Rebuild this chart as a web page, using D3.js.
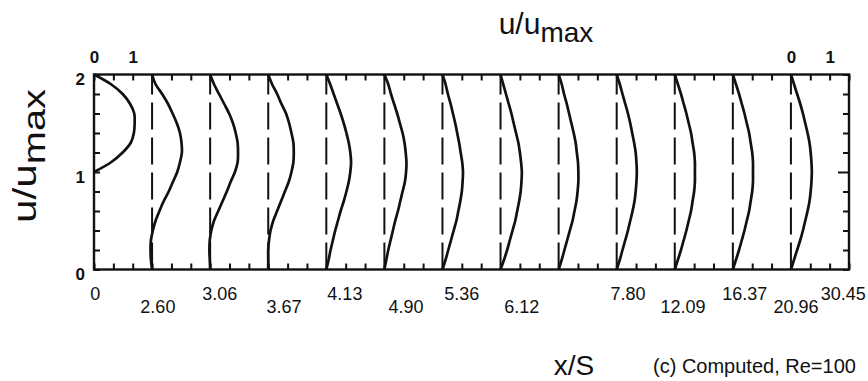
<!DOCTYPE html>
<html>
<head>
<meta charset="utf-8">
<script src="https://cdn.jsdelivr.net/npm/d3@7/dist/d3.min.js"></script>
<style>
  html, body { margin: 0; padding: 0; background: #fff; }
  svg { display: block; font-family: "Liberation Sans", Arial, sans-serif; }
</style>
</head>
<body>
<svg id="chart" width="868" height="381"></svg>
<script>
// ---------------- data ----------------
const stationLabels = ["0", "2.60", "3.06", "3.67", "4.13", "4.90", "5.36", "6.12", "7.80", "12.09", "16.37", "20.96", "30.45"];
const yLevels = [0, 0.1, 0.2, 0.3, 0.4, 0.5, 0.6, 0.7, 0.8, 0.9, 1.0, 1.1, 1.2, 1.3, 1.4, 1.5, 1.6, 1.7, 1.8, 1.9, 2.0];
const yTickLabels = ["0", "1", "2"];
const topTickLabels = ["0", "1"];

// u/umax at each yLevel, one array per station (null = not part of the profile)
const u_0000 = [null, null, null, null, null, null, null, null, null, null, 0, 0.44, 0.74, 0.95, 1.03, 1.05, 1.04, 0.93, 0.74, 0.44, 0];
const u_0260 = [0, -0.03, -0.04, -0.03, 0.02, 0.09, 0.19, 0.30, 0.43, 0.54, 0.65, 0.72, 0.77, 0.76, 0.72, 0.64, 0.53, 0.41, 0.26, 0.09, 0];
const u_0306 = [0, -0.01, -0.02, -0.01, 0.03, 0.10, 0.21, 0.32, 0.43, 0.53, 0.64, 0.71, 0.72, 0.71, 0.66, 0.59, 0.49, 0.36, 0.23, 0.10, 0];
const u_0367 = [0, 0, 0, 0.02, 0.06, 0.13, 0.23, 0.33, 0.43, 0.53, 0.60, 0.65, 0.66, 0.65, 0.60, 0.54, 0.46, 0.34, 0.23, 0.10, 0];
const u_0413 = [0, 0.06, 0.11, 0.17, 0.23, 0.30, 0.37, 0.45, 0.52, 0.58, 0.62, 0.64, 0.62, 0.58, 0.52, 0.45, 0.37, 0.28, 0.19, 0.10, 0];
const u_0490 = [0, 0.05, 0.10, 0.16, 0.22, 0.28, 0.35, 0.41, 0.47, 0.53, 0.56, 0.57, 0.55, 0.52, 0.47, 0.40, 0.33, 0.25, 0.17, 0.10, 0];
const u_0536 = [0, 0.08, 0.15, 0.22, 0.29, 0.36, 0.41, 0.46, 0.50, 0.52, 0.53, 0.51, 0.47, 0.43, 0.38, 0.33, 0.27, 0.21, 0.14, 0.08, 0];
const u_0612 = [0, 0.09, 0.17, 0.24, 0.31, 0.38, 0.43, 0.48, 0.52, 0.54, 0.55, 0.53, 0.50, 0.46, 0.40, 0.34, 0.28, 0.21, 0.14, 0.07, 0];
const u_0780 = [0, 0.08, 0.15, 0.22, 0.29, 0.36, 0.41, 0.46, 0.49, 0.51, 0.51, 0.50, 0.47, 0.44, 0.39, 0.33, 0.27, 0.21, 0.14, 0.08, 0];
const u_1209 = [0, 0.08, 0.15, 0.22, 0.29, 0.35, 0.41, 0.46, 0.49, 0.51, 0.52, 0.51, 0.49, 0.45, 0.40, 0.35, 0.29, 0.22, 0.15, 0.08, 0];
const u_1637 = [0, 0.08, 0.16, 0.23, 0.30, 0.36, 0.42, 0.46, 0.50, 0.52, 0.52, 0.52, 0.50, 0.46, 0.42, 0.36, 0.30, 0.23, 0.16, 0.08, 0];
const u_2096 = [0, 0.08, 0.16, 0.23, 0.30, 0.36, 0.42, 0.46, 0.50, 0.52, 0.52, 0.52, 0.50, 0.46, 0.42, 0.36, 0.30, 0.23, 0.16, 0.08, 0];
const u_3045 = [0, 0.08, 0.16, 0.24, 0.31, 0.37, 0.43, 0.48, 0.51, 0.53, 0.54, 0.53, 0.51, 0.48, 0.43, 0.37, 0.31, 0.24, 0.16, 0.08, 0];
const profiles = [u_0000, u_0260, u_0306, u_0367, u_0413, u_0490, u_0536, u_0612, u_0780, u_1209, u_1637, u_2096, u_3045];

// ---------------- layout ----------------
const stationStep = 1.5;                 // u/umax units between stations
const xDomainMax = stationLabels.length * stationStep;
// horizontal nudges of the x/S labels (in u/umax units), as placed in the original
const labelNudge = [0.03, 0.15, 0.25, 0.41, 0.48, 0.56, 0.50, 0.55, 1.79, 1.71, 1.81, 1.63, 1.35];

const svg = d3.select("#chart");
const x = d3.scaleLinear().domain([0, xDomainMax]).range([94, 849]);
const y = d3.scaleLinear().domain([0, 2]).range([269.5, 74.5]);
const ink = "#111";
const fontFam = "Liberation Sans, Arial, sans-serif";

const hTicks = d3.range(0, xDomainMax + 0.001, 0.5);
const vTicks = d3.range(0, 2.001, 0.2);
const lastStation = (stationLabels.length - 1) * stationStep;

// frame
svg.append("rect")
  .attr("x", x(0)).attr("y", y(2))
  .attr("width", x(xDomainMax) - x(0)).attr("height", y(0) - y(2))
  .attr("fill", "none").attr("stroke", ink).attr("stroke-width", 2.4);

// top axis: inward ticks + "0 1" labels at first and last station
const topAxis = d3.axisTop(x).tickValues(hTicks).tickSizeInner(-6).tickSizeOuter(0).tickPadding(12)
  .tickFormat(d => {
    if (Math.abs(d) < 1e-9 || Math.abs(d - lastStation) < 1e-9) return topTickLabels[0];
    if (Math.abs(d - 1) < 1e-9 || Math.abs(d - lastStation - 1) < 1e-9) return topTickLabels[1];
    return "";
  });
const gTop = svg.append("g").attr("transform", `translate(0,${y(2)})`).call(topAxis);

// bottom axis: inward ticks only
const botAxis = d3.axisBottom(x).tickValues(hTicks).tickSizeInner(-6).tickSizeOuter(0).tickFormat("");
const gBot = svg.append("g").attr("transform", `translate(0,${y(0)})`).call(botAxis);

// left axis: inward ticks + 0/1/2
const leftAxis = d3.axisLeft(y).tickValues(vTicks).tickSizeInner(-6).tickSizeOuter(0).tickPadding(9)
  .tickFormat(d => {
    const k = Math.round(d);
    return Math.abs(d - k) < 1e-9 ? yTickLabels[k] : "";
  });
const gLeft = svg.append("g").attr("transform", `translate(${x(0)},0)`).call(leftAxis);

// right axis: inward ticks, longer at 1
const rightAxis = d3.axisRight(y).tickValues(vTicks).tickSizeInner(-6).tickSizeOuter(0).tickFormat("");
const gRight = svg.append("g").attr("transform", `translate(${x(xDomainMax)},0)`).call(rightAxis);
gRight.selectAll(".tick line").filter(d => Math.abs(d - 1) < 1e-9).attr("x2", -11);

[gTop, gBot, gLeft, gRight].forEach(g => {
  g.select(".domain").remove();
  g.selectAll(".tick line").attr("stroke", ink).attr("stroke-width", 2);
  g.selectAll("text").attr("fill", ink).attr("font-family", fontFam)
    .attr("font-weight", "bold").attr("font-size", 17);
});
gLeft.selectAll("text").attr("dy", "0.6em");

// dashed station lines
svg.append("g").selectAll("line")
  .data(stationLabels.slice(1))
  .join("line")
  .attr("x1", (d, i) => x((i + 1) * stationStep))
  .attr("x2", (d, i) => x((i + 1) * stationStep))
  .attr("y1", y(0)).attr("y2", y(2))
  .attr("stroke", ink).attr("stroke-width", 2)
  .attr("stroke-dasharray", "27,8");

// profiles
const line = d3.line()
  .defined(d => d.u !== null)
  .x(d => x(d.base + d.u))
  .y(d => y(d.y))
  .curve(d3.curveCatmullRom.alpha(0.5));

svg.append("g").selectAll("path")
  .data(profiles.map((arr, i) => arr.map((u, j) => ({ base: i * stationStep, u: u, y: yLevels[j] }))))
  .join("path")
  .attr("d", line)
  .attr("fill", "none")
  .attr("stroke", ink)
  .attr("stroke-width", 2.7)
  .attr("stroke-linejoin", "round");

// x/S labels (alternating heights)
svg.append("g").selectAll("text")
  .data(stationLabels)
  .join("text")
  .attr("x", (d, i) => x(i * stationStep + labelNudge[i]))
  .attr("y", (d, i) => i % 2 === 0 ? 300 : 313)
  .attr("text-anchor", "middle")
  .attr("font-size", 18)
  .attr("fill", ink)
  .text(d => d);

// titles
const tTop = svg.append("text").attr("x", 546).attr("y", 34).attr("text-anchor", "middle")
  .attr("font-size", 30).attr("fill", ink);
tTop.append("tspan").text("u/u");
tTop.append("tspan").attr("dy", 8).attr("font-size", 28).text("max");

const tLeft = svg.append("text").attr("transform", "translate(36,156) rotate(-90)")
  .attr("text-anchor", "middle").attr("font-size", 33).attr("fill", ink)
  .attr("textLength", 134).attr("lengthAdjust", "spacingAndGlyphs");
tLeft.append("tspan").text("u/u");
tLeft.append("tspan").attr("dy", 9).attr("font-size", 31).text("max");

svg.append("text").attr("x", 574).attr("y", 375).attr("text-anchor", "middle")
  .attr("font-size", 28).attr("fill", ink).text("x/S");

svg.append("text").attr("x", 653).attr("y", 373).attr("text-anchor", "start")
  .attr("font-size", 20).attr("fill", ink).text("(c) Computed, Re=100");
</script>
</body>
</html>
